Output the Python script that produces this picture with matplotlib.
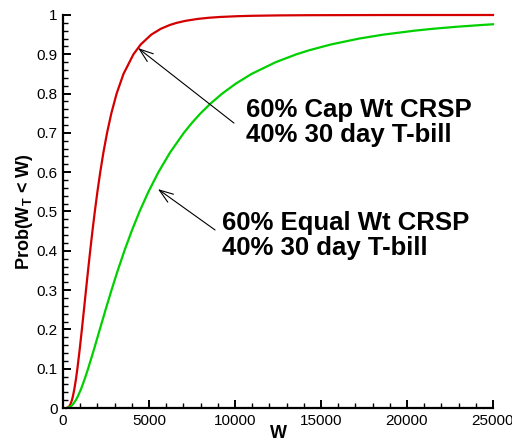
import matplotlib

matplotlib.use("Agg")
import matplotlib.pyplot as plt
from matplotlib.ticker import FuncFormatter, MultipleLocator

plt.rcParams["font.family"] = ["Liberation Sans", "DejaVu Sans"]
plt.rcParams["mathtext.fontset"] = "custom"
plt.rcParams["mathtext.rm"] = "Liberation Sans"
plt.rcParams["mathtext.bf"] = "Liberation Sans:bold"

# values (W, Prob(W_T < W))
cap_w = [200, 272, 375, 437, 518, 577, 667, 758, 836, 973, 1098, 1218, 1336,
         1457, 1581, 1711, 1850, 2000, 2165, 2349, 2561, 2811, 3118, 3516,
         4095, 4518, 5130, 5690, 6236, 6610, 7104, 7824, 8487, 9136, 10166,
         11019, 12569, 14228, 18560, 25000]
cap_p = [0, 0.001, 0.005, 0.01, 0.02, 0.03, 0.05, 0.075, 0.1, 0.15, 0.2, 0.25,
         0.3, 0.35, 0.4, 0.45, 0.5, 0.55, 0.6, 0.65, 0.7, 0.75, 0.8, 0.85, 0.9,
         0.925, 0.95, 0.965, 0.975, 0.98, 0.985, 0.99, 0.993, 0.995, 0.997,
         0.998, 0.999, 0.9995, 0.9999, 1.0]

equal_w = [254, 303, 473, 588, 745, 866, 1064, 1271, 1459, 1807, 2140, 2475,
           2820, 3183, 3570, 3989, 4450, 4964, 5547, 6222, 7023, 7486, 8002,
           8586, 9255, 10034, 10959, 12369, 13571, 14290, 15575, 17215, 18615,
           20415, 21529, 22860, 24485, 25000]
equal_p = [0.0005, 0.001, 0.005, 0.01, 0.02, 0.03, 0.05, 0.075, 0.1, 0.15, 0.2,
           0.25, 0.3, 0.35, 0.4, 0.45, 0.5, 0.55, 0.6, 0.65, 0.7, 0.725, 0.75,
           0.775, 0.8, 0.825, 0.85, 0.88, 0.9, 0.91, 0.925, 0.94, 0.95, 0.96,
           0.965, 0.97, 0.975, 0.9764]

cap_label = ["60% Cap Wt CRSP", "40% 30 day T-bill"]
equal_label = ["60% Equal Wt CRSP", "40% 30 day T-bill"]

fig = plt.figure(figsize=(5.12, 4.43), dpi=100)
fig.patch.set_facecolor("white")
ax = fig.add_axes([63 / 512, 1 - 408 / 443, 430 / 512, 393 / 443])

ax.plot(cap_w, cap_p, color="#d40000", lw=1.6, clip_on=False)
ax.plot(equal_w, equal_p, color="#00d000", lw=1.6, clip_on=False)

ax.set_xlim(0, 25000)
ax.set_ylim(0, 1)
ax.xaxis.set_major_locator(MultipleLocator(5000))
ax.xaxis.set_minor_locator(MultipleLocator(1000))
ax.yaxis.set_major_locator(MultipleLocator(0.1))
ax.yaxis.set_minor_locator(MultipleLocator(0.02))
ax.yaxis.set_major_formatter(FuncFormatter(lambda v, _: f"{v:g}"))
ax.xaxis.set_major_formatter(FuncFormatter(lambda v, _: f"{v:g}"))

ax.spines["top"].set_visible(False)
ax.spines["right"].set_visible(False)
for side in ("left", "bottom"):
    ax.spines[side].set_linewidth(1.6)
ax.tick_params(which="major", direction="in", length=6, width=1.4,
               labelsize=11, pad=4)
ax.tick_params(which="minor", direction="in", length=3.8, width=1.0)

ax.set_xlabel("W", fontsize=13, fontweight="bold", labelpad=-2)
ax.set_ylabel(r"Prob(W$_\mathbf{T}$ < W)", fontsize=13, fontweight="bold",
              labelpad=1)

arrow = dict(arrowstyle="->,head_length=1.0,head_width=0.35", color="black",
             lw=0.8, shrinkA=0, shrinkB=0)
ax.annotate("", xy=(4360, 0.916), xytext=(9940, 0.725), arrowprops=arrow)
ax.annotate("", xy=(5520, 0.557), xytext=(8840, 0.453), arrowprops=arrow)

for line, y in zip(cap_label, [0.740, 0.677]):
    ax.text(10640, y, line, fontsize=18.5, fontweight="bold", ha="left",
            va="baseline")
for line, y in zip(equal_label, [0.453, 0.389]):
    ax.text(9240, y, line, fontsize=18.5, fontweight="bold", ha="left",
            va="baseline")

fig.savefig("out.png", dpi=100)
